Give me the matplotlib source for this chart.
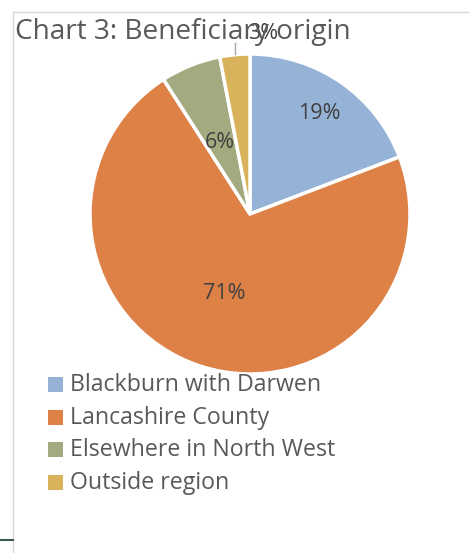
import numpy as np
import matplotlib
matplotlib.use("Agg")
import matplotlib.pyplot as plt
from matplotlib.lines import Line2D
from matplotlib.patches import Rectangle

plt.rcParams['font.family'] = ['Open Sans', 'DejaVu Sans']

categories = ["Blackburn with Darwen", "Lancashire County",
              "Elsewhere in North West", "Outside region"]
shares = [19, 71, 6, 3]
colors = ["#95B3D7", "#DD8146", "#A4AA80", "#D9B35B"]
title = "Chart 3: Beneficiary origin"
text_color = "#595959"
label_color = "#404040"

W, H = 470, 553
fig = plt.figure(figsize=(W / 100, H / 100), dpi=100)

# chart frame lines
fig.add_artist(Line2D([13 / W, 1], [1 - 12 / H, 1 - 12 / H], color="#D9D9D9", lw=1))
fig.add_artist(Line2D([13 / W, 13 / W], [0, 1 - 12 / H], color="#D9D9D9", lw=1))
fig.add_artist(Line2D([0, 13 / W], [1 - 540 / H, 1 - 540 / H], color="#3A5A4A", lw=1.5))

cx, cy, r = 250, 214, 160
ax = fig.add_axes([(cx - r) / W, (H - cy - r) / H, 2 * r / W, 2 * r / H])
wedges, _ = ax.pie(shares, colors=colors, startangle=90, counterclock=False,
                   wedgeprops=dict(edgecolor="white", linewidth=2.5))
ax.set_xlim(-1, 1)
ax.set_ylim(-1, 1)
ax.set_aspect("equal")
ax.axis("off")

label_pos = [(0.43, 0.63), (-0.16, -0.495), (-0.19, 0.45), (0.08, 1.13)]
for s, (lx, ly) in zip(shares, label_pos):
    ax.text(lx, ly, f"{s}%", ha="center", va="center",
            fontsize=15.5, color=label_color, clip_on=False)

# leader line for the smallest slice
w = wedges[3]
mid = np.deg2rad((w.theta1 + w.theta2) / 2)
ax.plot([np.cos(mid), np.cos(mid)], [1.0, 1.07], color="#A6A6A6",
        lw=1, clip_on=False)

fig.text(15 / W, 1 - 32 / H, title, fontsize=20.2, color=text_color,
         ha="left", va="center")

# legend
rows = [385, 418, 450, 483]
for name, c, y in zip(categories, colors, rows):
    fig.add_artist(Rectangle((48 / W, 1 - (y + 7) / H), 15 / W, 15 / H,
                             facecolor=c, edgecolor="none"))
    fig.text(70 / W, 1 - y / H, name, fontsize=16.7, color=text_color,
             ha="left", va="center")

fig.savefig("out.png", dpi=100)
